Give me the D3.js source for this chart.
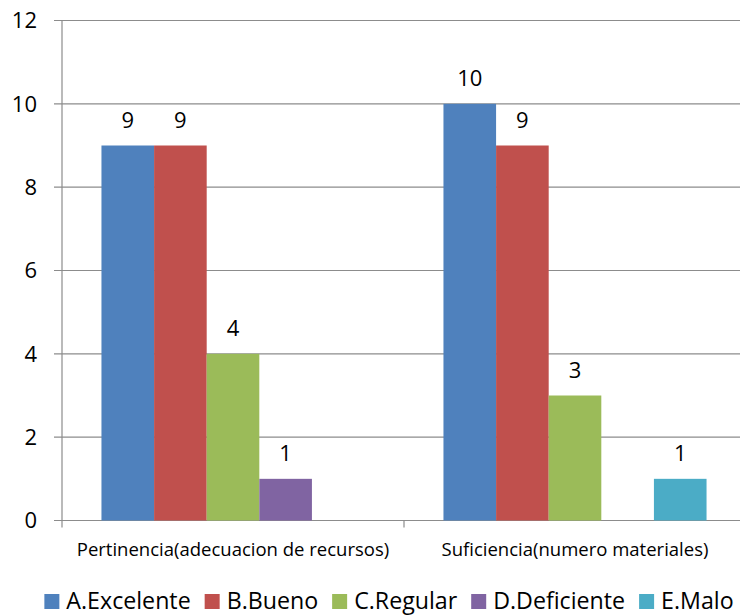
<!DOCTYPE html>
<html>
<head>
<meta charset="utf-8">
<script src="https://cdn.jsdelivr.net/npm/d3@7"></script>
<style>
  body { margin: 0; background: #fff; }
  svg { display: block; font-family: "Open Sans", sans-serif; }
</style>
</head>
<body>
<div id="chart"></div>
<script>
const categories = ["Pertinencia(adecuacion de recursos)", "Suficiencia(numero materiales)"];
const seriesNames = ["A.Excelente", "B.Bueno", "C.Regular", "D.Deficiente", "E.Malo"];
const seriesColors = ["#4F81BD", "#C0504D", "#9BBB59", "#8064A2", "#4BACC6"];
// one array per series, one value per category
const excelente = [9, 10];
const bueno = [9, 9];
const regular = [4, 3];
const deficiente = [1, 0];
const malo = [0, 1];
const yTicks = [0, 2, 4, 6, 8, 10, 12];

const seriesValues = [excelente, bueno, regular, deficiente, malo];

const width = 740, height = 616;
const margin = { top: 20.5, right: -6, bottom: 95.5, left: 62 };
const plotW = width - margin.left - margin.right;
const plotH = height - margin.top - margin.bottom;

const svg = d3.select("#chart").append("svg")
    .attr("width", width)
    .attr("height", height);

const g = svg.append("g")
    .attr("transform", `translate(${margin.left},${margin.top})`);

const x0 = d3.scaleBand().domain(categories).range([0, plotW]).padding(0);
const x1 = d3.scaleBand().domain(seriesNames).range([0, x0.bandwidth()])
    .paddingInner(0).paddingOuter(0.75);
const y = d3.scaleLinear().domain([0, 12]).range([plotH, 0]);

// gridlines
g.append("g")
    .selectAll("line")
    .data(yTicks)
    .enter().append("line")
    .attr("x1", -8)
    .attr("x2", plotW)
    .attr("y1", d => y(d))
    .attr("y2", d => y(d))
    .attr("stroke", "#8c8c8c")
    .attr("stroke-width", 1.2);

// y axis labels
g.append("g")
    .selectAll("text")
    .data(yTicks)
    .enter().append("text")
    .attr("x", -25)
    .attr("y", d => y(d))
    .attr("dy", "0.36em")
    .attr("text-anchor", "end")
    .style("font-size", "22px")
    .attr("fill", "#000")
    .text(d => d);

// axis lines
g.append("line")
    .attr("x1", 0).attr("x2", 0)
    .attr("y1", 0).attr("y2", plotH + 7)
    .attr("stroke", "#8c8c8c").attr("stroke-width", 1.2);

// category ticks between groups
g.append("g")
    .selectAll("line")
    .data(categories.slice(1))
    .enter().append("line")
    .attr("x1", d => x0(d)).attr("x2", d => x0(d))
    .attr("y1", plotH).attr("y2", plotH + 7)
    .attr("stroke", "#8c8c8c").attr("stroke-width", 1.2);

// bars
const groups = g.append("g")
    .selectAll("g")
    .data(categories)
    .enter().append("g")
    .attr("transform", d => `translate(${x0(d)},0)`);

const barData = (cat, ci) => seriesNames.map((s, si) => ({
    series: s, color: seriesColors[si], value: seriesValues[si][ci]
}));

groups.each(function (cat, ci) {
    const data = barData(cat, ci);
    const grp = d3.select(this);
    grp.selectAll("rect")
        .data(data.filter(d => d.value > 0))
        .enter().append("rect")
        .attr("x", d => x1(d.series))
        .attr("y", d => y(d.value))
        .attr("width", x1.bandwidth())
        .attr("height", d => plotH - y(d.value))
        .attr("fill", d => d.color);

    grp.selectAll("text")
        .data(data.filter(d => d.value > 0))
        .enter().append("text")
        .attr("x", d => x1(d.series) + x1.bandwidth() / 2)
        .attr("y", d => y(d.value) - 18)
        .attr("text-anchor", "middle")
        .style("font-size", "22px")
        .attr("fill", "#000")
        .text(d => d.value);
});

// category labels
g.append("g")
    .selectAll("text")
    .data(categories)
    .enter().append("text")
    .attr("x", d => x0(d) + x0.bandwidth() / 2)
    .attr("y", plotH + 35)
    .attr("text-anchor", "middle")
    .style("font-size", "18.5px")
    .attr("fill", "#000")
    .text(d => d);

// legend
const legend = svg.append("g").attr("transform", "translate(0,609)");
let lx = 0;
seriesNames.forEach((name, i) => {
    const item = legend.append("g");
    item.append("rect")
        .attr("x", 0).attr("y", -15)
        .attr("width", 15).attr("height", 15)
        .attr("fill", seriesColors[i]);
    const t = item.append("text")
        .attr("x", 22).attr("y", 0)
        .style("font-size", "23.2px")
        .attr("fill", "#000")
        .text(name);
    const w = 22 + t.node().getComputedTextLength();
    item.attr("transform", `translate(${lx},0)`);
    lx += w + 14;
});
const legendW = lx - 14;
legend.attr("transform", `translate(${389 - legendW / 2},609)`);
</script>
</body>
</html>
